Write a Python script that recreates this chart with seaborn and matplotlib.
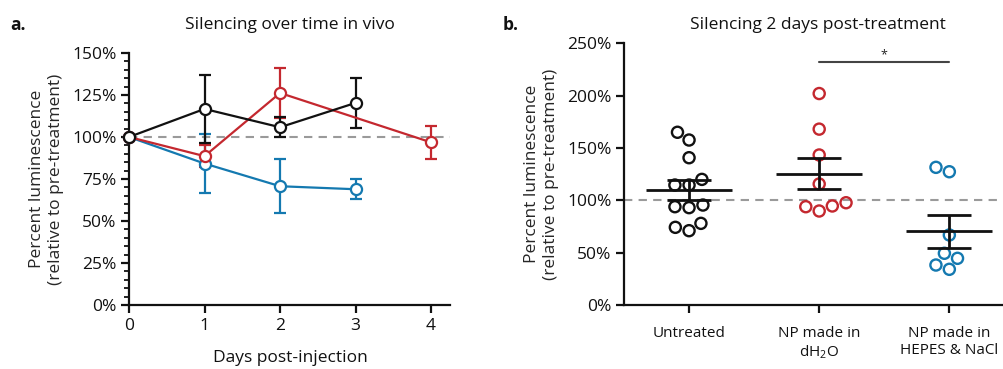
import matplotlib
matplotlib.use("Agg")
import matplotlib.pyplot as plt
from matplotlib.ticker import MultipleLocator, PercentFormatter
import numpy as np
import pandas as pd
import seaborn as sns

# panel a: silencing over time (mean and error)
untreated_days = [0, 1, 2, 3]
untreated_mean = [100, 116.7, 105.8, 120.3]
untreated_err = [0, 20, 6, 15]

water_days = [0, 1, 2, 4]
water_mean = [100, 88.6, 126.2, 96.8]
water_err = [0, 6.5, 14.7, 10]

hepes_days = [0, 1, 2, 3]
hepes_mean = [100, 84.2, 70.7, 68.9]
hepes_err = [0, 17.5, 16, 6]

# panel b: individual animals 2 days post-treatment
untreated_pts = [165, 157.6, 140.7, 120, 114.6, 114.6, 93.9, 93, 95.5, 78, 71, 74.2]
water_pts = [202, 168, 143.3, 115.6, 94.6, 89.8, 93.9, 97.7]
hepes_pts = [127.3, 131.5, 66.9, 44.6, 34.1, 38.2, 49.4]
groups_b = ["Untreated", "NP made in\ndH$_2$O", "NP made in\nHEPES & NaCl"]

BLACK = "#111111"
RED = "#c4282f"
BLUE = "#1479b0"
GREY = "#9a9a9a"

sns.set_style("ticks")
plt.rcParams["font.family"] = ["Open Sans", "DejaVu Sans"]
plt.rcParams["mathtext.default"] = "regular"
plt.rcParams["text.color"] = BLACK

fig = plt.figure(figsize=(10.04, 3.69), dpi=100)

# ---------------- panel a ----------------
ax = fig.add_axes([0.1285, 0.1734, 0.3197, 0.683])

df_a = pd.concat([
    pd.DataFrame({"day": hepes_days, "mean": hepes_mean, "err": hepes_err, "group": "hepes"}),
    pd.DataFrame({"day": water_days, "mean": water_mean, "err": water_err, "group": "water"}),
    pd.DataFrame({"day": untreated_days, "mean": untreated_mean, "err": untreated_err, "group": "untreated"}),
])
pal_a = {"untreated": BLACK, "water": RED, "hepes": BLUE}

ax.axhline(100, color=GREY, ls=(0, (4, 3)), lw=1.5, zorder=1)
for name, sub in df_a.groupby("group", sort=False):
    sub = sub[sub["err"] > 0]
    ax.errorbar(sub["day"], sub["mean"], yerr=sub["err"], fmt="none",
                ecolor=pal_a[name], elinewidth=1.6, capsize=4.5, capthick=1.6, zorder=2)

n_before = len(ax.lines)
sns.lineplot(data=df_a, x="day", y="mean", hue="group", palette=pal_a,
             hue_order=["hepes", "water", "untreated"], marker="o", markersize=8,
             markerfacecolor="white", markeredgewidth=1.6, lw=1.6,
             legend=False, errorbar=None, ax=ax, zorder=3)
for ln in ax.lines[n_before:]:
    ln.set_markeredgecolor(ln.get_color())
    ln.set_clip_on(False)

ax.set_xlim(0, 4.25)
ax.set_ylim(0, 150)
ax.set_xticks([0, 1, 2, 3, 4])
ax.yaxis.set_major_locator(MultipleLocator(25))
ax.yaxis.set_minor_locator(MultipleLocator(5))
ax.yaxis.set_major_formatter(PercentFormatter(decimals=0))
ax.set_xlabel("")
ax.set_ylabel("Percent luminescence\n(relative to pre-treatment)", fontsize=12.5, labelpad=6)
sns.despine(ax=ax)

# ---------------- panel b ----------------
bx = fig.add_axes([0.6215, 0.1734, 0.3785, 0.7093])

df_b = pd.DataFrame({
    "group": [groups_b[0]] * len(untreated_pts) + [groups_b[1]] * len(water_pts)
    + [groups_b[2]] * len(hepes_pts),
    "value": untreated_pts + water_pts + hepes_pts,
})
pal_b = dict(zip(groups_b, [BLACK, RED, BLUE]))

bx.axhline(100, color=GREY, ls=(0, (4, 3)), lw=1.5, zorder=1)
sns.swarmplot(data=df_b, x="group", y="value", hue="group", palette=pal_b,
              order=groups_b, size=8, legend=False, ax=bx, zorder=2)
for c in bx.collections:
    fc = c.get_facecolor()
    c.set_edgecolor(fc)
    c.set_facecolor("none")
    c.set_linewidth(1.7)

for i, g in enumerate(groups_b):
    vals = np.array(df_b.loc[df_b["group"] == g, "value"])
    m = vals.mean()
    sem = vals.std(ddof=1) / np.sqrt(len(vals))
    bx.hlines(m, i - 0.33, i + 0.33, color=BLACK, lw=2, zorder=4)
    bx.hlines([m - sem, m + sem], i - 0.17, i + 0.17, color=BLACK, lw=2, zorder=4)
    bx.vlines(i, m - sem, m + sem, color=BLACK, lw=2, zorder=4)

# significance bar
bx.plot([1, 2], [232, 232], color="#444444", lw=1.5, clip_on=False)
bx.text(1.5, 233, "*", ha="center", va="bottom", fontsize=9, color="#222222")

bx.set_xlim(-0.5, 2.42)
bx.set_ylim(0, 250)
bx.yaxis.set_major_locator(MultipleLocator(50))
bx.yaxis.set_major_formatter(PercentFormatter(decimals=0))
bx.set_xlabel("")
bx.set_ylabel("Percent luminescence\n(relative to pre-treatment)", fontsize=12.5, labelpad=6)
sns.despine(ax=bx)

for a in (ax, bx):
    for s in ("left", "bottom"):
        a.spines[s].set_linewidth(1.6)
        a.spines[s].set_color(BLACK)
    a.tick_params(axis="both", which="major", length=6, width=1.6, colors=BLACK,
                  labelsize=12.5, pad=3)
    a.tick_params(axis="y", which="minor", length=3.5, width=1.3, colors=BLACK)
bx.tick_params(axis="x", labelsize=11, pad=9)

fig.text(0.289, 0.932, "Silencing over time in vivo", ha="center", va="center", fontsize=12.5)
fig.text(0.815, 0.932, "Silencing 2 days post-treatment", ha="center", va="center", fontsize=12.5)
fig.text(0.010, 0.932, "a.", ha="left", va="center", fontsize=12.5, fontweight="bold")
fig.text(0.501, 0.932, "b.", ha="left", va="center", fontsize=12.5, fontweight="bold")
fig.text(0.289, 0.030, "Days post-injection", ha="center", va="center", fontsize=12.5)

fig.savefig("out.png", dpi=100)
